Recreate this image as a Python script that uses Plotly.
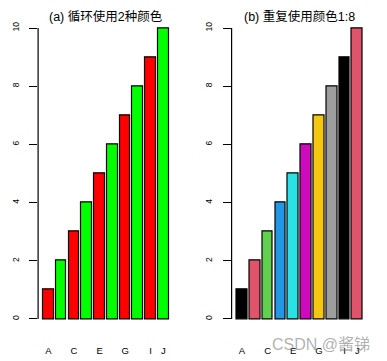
import plotly.graph_objects as go

categories = ["A", "B", "C", "D", "E", "F", "G", "H", "I", "J"]
values = [1, 2, 3, 4, 5, 6, 7, 8, 9, 10]
colors_a = ["#FF0000", "#00FF00"]
colors_b = ["#000000", "#DF536B", "#61D04F", "#2297E6", "#28E2E5",
            "#CD0BBC", "#F5C710", "#9E9E9E"]
shown_labels = ["A", "C", "E", "G", "I", "J"]
y_ticks = [0, 2, 4, 6, 8, 10]
title_a = "(a) 循环使用2种颜色"
title_b = "(b) 重复使用颜色1:8"

W, H = 387, 361
FONT = "Liberation Sans, Arial, Noto Sans CJK SC, sans-serif"

# R barplot geometry: width 1, space 0.2
xpos = [0.7 + 1.2 * i for i in range(len(categories))]
xrange_ = [-0.272, 12.472]
yrange_ = [-0.4, 10.4]

fill_a = [colors_a[i % len(colors_a)] for i in range(len(values))]
fill_b = [colors_b[i % len(colors_b)] for i in range(len(values))]

fig = go.Figure()
for k, (fills, xa, ya) in enumerate([(fill_a, "x", "y"), (fill_b, "x2", "y2")]):
    fig.add_trace(go.Bar(
        x=xpos, y=values, width=1.0, marker=dict(color=fills, line=dict(color="black", width=1.2)),
        xaxis=xa, yaxis=ya, showlegend=False, hoverinfo="skip"))

label_pos = [xpos[categories.index(c)] for c in shown_labels]

def px_dom(a, b):
    return [a / W, b / W]

ydom = [(H - 330.6) / H, (H - 16.4) / H]

common_x = dict(range=xrange_, showgrid=False, zeroline=False, showline=False,
                tickmode="array", tickvals=label_pos, ticktext=shown_labels,
                ticks="outside", ticklen=11, tickcolor="rgba(0,0,0,0)",
                tickfont=dict(family=FONT, size=9.5, color="black"), fixedrange=True)
common_y = dict(range=yrange_, showgrid=False, zeroline=False, showline=False,
                tickmode="array", tickvals=y_ticks, ticks="outside", ticklen=8,
                tickwidth=1.2, tickcolor="black", tickangle=-90,
                ticklabelstandoff=7,
                tickfont=dict(family=FONT, size=8.5, color="black"), domain=ydom,
                fixedrange=True)

fig.update_layout(
    width=W, height=H, margin=dict(l=0, r=0, t=0, b=0),
    paper_bgcolor="white", plot_bgcolor="white", bargap=0,
    xaxis=dict(domain=px_dom(38.1, 173.8), anchor="y", **common_x),
    yaxis=dict(anchor="x", **common_y),
    xaxis2=dict(domain=px_dom(231.6, 367.8), anchor="y2", **common_x),
    yaxis2=dict(anchor="x2", **common_y),
)

for xr, yr in [("x domain", "y"), ("x2 domain", "y2")]:
    fig.add_shape(type="line", xref=xr, yref=yr, x0=0, x1=0, y0=0, y1=10,
                  line=dict(color="black", width=1.2))

fig.add_annotation(text=title_a, xref="x domain", yref="paper", x=0.5, y=(H - 16) / H,
                   yanchor="middle", xanchor="center", showarrow=False,
                   font=dict(family=FONT, size=12.5, color="black"))
fig.add_annotation(text=title_b, xref="x2 domain", yref="paper", x=0.5, y=(H - 16) / H,
                   yanchor="middle", xanchor="center", showarrow=False,
                   font=dict(family=FONT, size=12.5, color="black"))
fig.add_annotation(text="CSDN @酱锑", xref="paper", yref="paper", x=372 / W, y=(H - 344) / H,
                   xanchor="right", yanchor="middle", showarrow=False,
                   font=dict(family=FONT, size=16, color="rgba(110,110,110,0.55)"))

fig.write_html("out.html", config={"displayModeBar": False},
               post_script="document.body.style.margin='0';document.body.style.overflow='hidden';")
